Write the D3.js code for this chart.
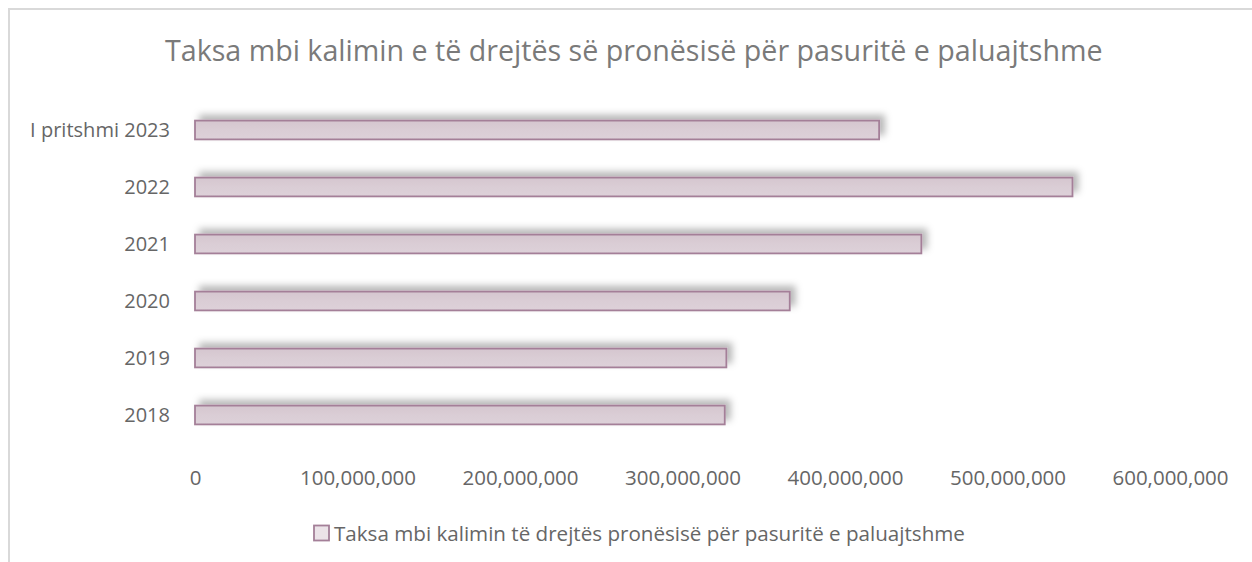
<!DOCTYPE html>
<html>
<head>
<meta charset="utf-8">
<script src="https://cdn.jsdelivr.net/npm/d3@7"></script>
<style>
  body { margin: 0; background: #fff; }
  text { font-family: "Open Sans", "Noto Sans", sans-serif; }
</style>
</head>
<body>
<div id="chart"></div>
<script>
////////////////////////////////////////////////////////////////
// Data

var categories = ["I pritshmi 2023", "2022", "2021", "2020", "2019", "2018"];
var values = [421000000, 540000000, 447000000, 366000000, 327000000, 326000000];
var tickValues = [0, 100000000, 200000000, 300000000, 400000000, 500000000, 600000000];
var titleText = "Taksa mbi kalimin e të drejtës së pronësisë për pasuritë e paluajtshme";
var legendText = "Taksa mbi kalimin të drejtës pronësisë për pasuritë e paluajtshme";

////////////////////////////////////////////////////////////////
// Basic parameters

var svgWidth = 1252;
var svgHeight = 562;

var svg = d3.select("#chart")
    .append("svg")
    .attr("width", svgWidth)
    .attr("height", svgHeight);

// shadow + fill for bars
var defs = svg.append("defs");
var filter = defs.append("filter")
    .attr("id", "shadow")
    .attr("x", "-10%").attr("y", "-150%")
    .attr("width", "120%").attr("height", "400%");
filter.append("feDropShadow")
    .attr("dx", 5).attr("dy", -5)
    .attr("stdDeviation", 3.5)
    .attr("flood-color", "#000")
    .attr("flood-opacity", 0.28);

var grad = defs.append("linearGradient")
    .attr("id", "barFill")
    .attr("x1", 0).attr("y1", 0).attr("x2", 0).attr("y2", 1);
grad.append("stop").attr("offset", "0%").attr("stop-color", "#d5c6cf");
grad.append("stop").attr("offset", "50%").attr("stop-color", "#dacdd5");
grad.append("stop").attr("offset", "100%").attr("stop-color", "#ddd1d9");

// chart border (runs off the right and bottom edge)
svg.append("rect")
    .attr("x", 9).attr("y", 9)
    .attr("width", svgWidth + 20).attr("height", svgHeight + 20)
    .attr("fill", "none")
    .attr("stroke", "#d9d9d9")
    .attr("stroke-width", 2);

// fit a text element to a pixel width by changing its font size
function fitWidth(sel, target) {
    var node = sel.node();
    var size = parseFloat(sel.attr("font-size"));
    var w = node.getComputedTextLength();
    if (w > 0) sel.attr("font-size", (size * target / w).toFixed(2));
}

////////////////////////////////////////////////////////////////
// Scales

var xScale = d3.scaleLinear()
    .domain([0, 600000000])
    .range([195, 1170]);

var yScale = d3.scaleBand()
    .domain(categories)
    .range([101.5, 443.5])
    .paddingInner(0.67)
    .paddingOuter(0.335);

////////////////////////////////////////////////////////////////
// Title

var title = svg.append("text")
    .attr("x", 165)
    .attr("y", 61)
    .attr("font-size", 27)
    .attr("fill", "#7a7a7a")
    .text(titleText);
fitWidth(title, 938);

////////////////////////////////////////////////////////////////
// Bars

svg.append("g")
    .selectAll("rect")
    .data(categories)
    .enter()
    .append("rect")
    .attr("x", xScale(0))
    .attr("y", d => yScale(d))
    .attr("width", (d, i) => xScale(values[i]) - xScale(0))
    .attr("height", yScale.bandwidth())
    .attr("fill", "url(#barFill)")
    .attr("stroke", "#a47f98")
    .attr("stroke-width", 1.8)
    .attr("filter", "url(#shadow)");

////////////////////////////////////////////////////////////////
// Axes

var leftAxis = d3.axisLeft(yScale).tickSize(0).tickPadding(0);
var yAxis = svg.append("g")
    .attr("transform", "translate(170, 0)")
    .call(leftAxis);
yAxis.select(".domain").remove();
yAxis.selectAll("text")
    .attr("font-size", 20)
    .attr("font-family", "'Open Sans', 'Noto Sans', sans-serif")
    .attr("fill", "#666")
    .attr("dy", "0.35em");
fitWidth(yAxis.selectAll("text").filter(d => d === "I pritshmi 2023"), 140);

var bottomAxis = d3.axisBottom(xScale)
    .tickValues(tickValues)
    .tickFormat(d3.format(","))
    .tickSize(0)
    .tickPadding(0);
var xAxis = svg.append("g")
    .attr("transform", "translate(0, 470)")
    .call(bottomAxis);
xAxis.select(".domain").remove();
xAxis.selectAll("text")
    .attr("font-size", 20.5)
    .attr("font-family", "'Open Sans', 'Noto Sans', sans-serif")
    .attr("fill", "#666")
    .attr("dy", "0.71em");

////////////////////////////////////////////////////////////////
// Legend

var legend = svg.append("g");
legend.append("rect")
    .attr("x", 314).attr("y", 525.5)
    .attr("width", 15).attr("height", 15)
    .attr("fill", "#ebe3e8")
    .attr("stroke", "#a47f98")
    .attr("stroke-width", 1.8);
var legendLabel = legend.append("text")
    .attr("x", 334)
    .attr("y", 541)
    .attr("font-size", 21)
    .attr("fill", "#666")
    .text(legendText);
fitWidth(legendLabel, 631);
</script>
</body>
</html>
